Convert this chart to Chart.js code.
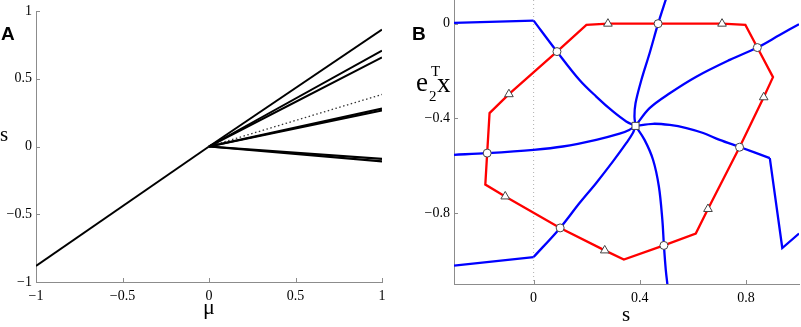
<!DOCTYPE html>
<html>
<head>
<meta charset="utf-8">
<script src="https://cdn.jsdelivr.net/npm/chart.js@4.4.1/dist/chart.umd.min.js"></script>
<style>
  html, body { margin: 0; padding: 0; background: #fff; }
  #wrap { position: relative; width: 801px; height: 327px; overflow: hidden; font-family: "Liberation Serif", serif; }
  .box { position: absolute; top: 0; }
  .lbl { position: absolute; line-height: 1; color: #000; white-space: nowrap; }
  .tag { font-family: "Liberation Sans", Arial, sans-serif; font-weight: bold; font-size: 19px; }
</style>
</head>
<body>
<div id="wrap">
  <div class="box" style="left:0;width:400px;height:327px"><canvas id="chartA" width="400" height="327"></canvas></div>
  <div class="box" style="left:400px;width:401px;height:327px"><canvas id="chartB" width="401" height="327"></canvas></div>

  <div class="lbl tag" style="left:1px;top:24px">A</div>
  <div class="lbl" style="left:0px;top:124px;font-size:21px">s</div>
  <div class="lbl" style="left:203px;top:296px;font-size:22px">μ</div>

  <div class="lbl tag" style="left:412px;top:24px">B</div>
  <div class="lbl" style="left:416px;top:69px;font-size:27px">e</div>
  <div class="lbl" style="left:431px;top:64px;font-size:15px">T</div>
  <div class="lbl" style="left:429px;top:89px;font-size:15px">2</div>
  <div class="lbl" style="left:437px;top:70px;font-size:27px">x</div>
  <div class="lbl" style="left:622px;top:304px;font-size:21px">s</div>
</div>

<script>
// ---- panel A: s against mu ----
const MU_TICKS = [-1, -0.5, 0, 0.5, 1]
const S_TICKS = [-1, -0.5, 0, 0.5, 1]
const MU_LEFT = [-1, 0]
const S_LEFT = [-0.882, 0]
const MU_RIGHT = [0, 1]
const S_THIN_ENDS = [0.863, 0.708, 0.657]
const S_DOTTED_END = 0.384
const S_THICK_ENDS = [0.266, 0.28, -0.092, -0.11]

// ---- panel B: e2'x against s ----
const B_X_TICKS = [0, 0.4, 0.8]
const B_Y_TICKS = [-0.8, -0.4, 0]
const ZERO_X = [0, 0]
const ZERO_Y = [0.1, -1.1]

// straight pieces of the blue curves
const BLUE1A_X = [-0.3, 0]
const BLUE1A_Y = [0.003, 0.013]
const BLUE4B_X = [0.89, 0.937, 1.0]
const BLUE4B_Y = [-0.568, -0.948, -0.887]
const BLUE6A_X = [-0.3, 0]
const BLUE6A_Y = [-1.022, -0.986]
// smooth pieces, all ending in the centre
const BLUE1_X = [0, 0.088, 0.173, 0.236, 0.299, 0.349, 0.384]
const BLUE1_Y = [0.013, -0.118, -0.238, -0.308, -0.371, -0.413, -0.432]
const BLUE2_X = [0.499, 0.469, 0.437, 0.406, 0.384, 0.38, 0.384]
const BLUE2_Y = [0.105, 0.0, -0.125, -0.238, -0.336, -0.392, -0.432]
const BLUE3_X = [1.0, 0.927, 0.843, 0.739, 0.613, 0.513, 0.437, 0.384]
const BLUE3_Y = [-0.002, -0.048, -0.101, -0.153, -0.224, -0.294, -0.357, -0.432]
const BLUE4_X = [0.384, 0.45, 0.513, 0.576, 0.639, 0.701, 0.779, 0.89]
const BLUE4_Y = [-0.432, -0.423, -0.428, -0.441, -0.462, -0.491, -0.522, -0.568]
const BLUE5_X = [0.384, 0.418, 0.45, 0.472, 0.485, 0.491, 0.498, 0.505]
const BLUE5_Y = [-0.432, -0.491, -0.575, -0.688, -0.828, -0.937, -1.04, -1.11]
const BLUE6_X = [0, 0.1, 0.173, 0.236, 0.299, 0.349, 0.374, 0.384]
const BLUE6_Y = [-0.986, -0.863, -0.758, -0.673, -0.582, -0.505, -0.462, -0.432]
const BLUE7_X = [-0.3, -0.175, 0, 0.11, 0.236, 0.324, 0.36, 0.384]
const BLUE7_Y = [-0.554, -0.547, -0.533, -0.519, -0.491, -0.465, -0.449, -0.432]

const RED_X = [0.088, 0.199, 0.28, 0.469, 0.71, 0.798, 0.843, 0.902, 0.867, 0.776, 0.657, 0.611, 0.491, 0.34, 0.268, 0.1, -0.107, -0.182, -0.175, -0.166, -0.093, 0.088]
const RED_Y = [-0.118, -0.005, 0.0, 0.0, 0.0, -0.005, -0.101, -0.226, -0.311, -0.522, -0.783, -0.887, -0.937, -0.997, -0.958, -0.863, -0.73, -0.68, -0.547, -0.378, -0.298, -0.118]

const CIRC_X = [0.088, 0.469, 0.843, 0.776, 0.491, 0.1, -0.175]
const CIRC_Y = [-0.118, 0.0, -0.101, -0.522, -0.937, -0.863, -0.547]
const TRI_X = [0.28, 0.71, 0.867, 0.657, 0.268, -0.107, -0.093]
const TRI_Y = [0.0, 0.0, -0.311, -0.783, -0.958, -0.73, -0.298]
const SQ_X = [0.384]
const SQ_Y = [-0.432]

const TICK_FONT = { family: '"Liberation Serif", serif', size: 14 }
const AXIS_GREY = '#8c8c8c'

const pts = (xs, ys) => xs.map((x, i) => ({ x, y: ys[i] }))
const fmt = v => (v < 0 ? '\u2212' + String(-v) : String(v))

// MATLAB style ticks, pointing into the plot
const innerTicks = {
  id: 'innerTicks',
  afterDraw(chart) {
    const { ctx, chartArea: a, scales: { x, y } } = chart
    ctx.save()
    ctx.strokeStyle = AXIS_GREY
    ctx.lineWidth = 1
    x.ticks.forEach(t => {
      const px = Math.round(x.getPixelForValue(t.value)) + 0.5
      ctx.beginPath(); ctx.moveTo(px, a.bottom); ctx.lineTo(px, a.bottom - 4); ctx.stroke()
    })
    y.ticks.forEach(t => {
      const py = Math.round(y.getPixelForValue(t.value)) + 0.5
      ctx.beginPath(); ctx.moveTo(a.left, py); ctx.lineTo(a.left + 4, py); ctx.stroke()
    })
    ctx.restore()
  }
}

function axis(min, max, ticks, size, pad) {
  return {
    type: 'linear', min, max,
    afterBuildTicks: s => { s.ticks = ticks.map(v => ({ value: v })) },
    afterFit: s => {
      if (s.isHorizontal()) s.height = size; else s.width = size
      s.paddingLeft = s.paddingRight = s.paddingTop = s.paddingBottom = 0
    },
    grid: { display: false, drawTicks: false },
    border: { color: AXIS_GREY, width: 1 },
    ticks: { font: TICK_FONT, color: '#000', padding: pad, autoSkip: false, maxRotation: 0, callback: fmt }
  }
}

function line(data, color, width, extra) {
  return Object.assign({ data, showLine: true, borderColor: color, borderWidth: width, pointRadius: 0, tension: 0, fill: false }, extra || {})
}

const baseOpts = {
  responsive: false,
  animation: false,
  events: [],
  plugins: { legend: { display: false }, tooltip: { enabled: false } }
}

// panel A
const aSets = [line(pts(MU_LEFT, S_LEFT), '#000', 2)]
S_THIN_ENDS.forEach(e => aSets.push(line(pts(MU_RIGHT, [0, e]), '#000', 2)))
S_THICK_ENDS.forEach(e => aSets.push(line(pts(MU_RIGHT, [0, e]), '#000', 2.2)))
aSets.push(line(pts(MU_RIGHT, [0, S_DOTTED_END]), '#333', 1.3, { borderDash: [1.5, 2.5] }))

new Chart(document.getElementById('chartA'), {
  type: 'scatter',
  data: { datasets: aSets },
  options: Object.assign({}, baseOpts, {
    layout: { autoPadding: false, padding: { left: 0, right: 18, top: 11, bottom: 0 } },
    scales: {
      x: axis(-1, 1, MU_TICKS, 45, 6),
      y: axis(-1, 1, S_TICKS, 36, 4)
    }
  }),
  plugins: [innerTicks]
})

// panel B
const straightBlues = [[BLUE1A_X, BLUE1A_Y], [BLUE4B_X, BLUE4B_Y], [BLUE6A_X, BLUE6A_Y]]
const curvedBlues = [[BLUE1_X, BLUE1_Y], [BLUE2_X, BLUE2_Y], [BLUE3_X, BLUE3_Y], [BLUE4_X, BLUE4_Y],
  [BLUE5_X, BLUE5_Y], [BLUE6_X, BLUE6_Y], [BLUE7_X, BLUE7_Y]]
const marker = (data, style, r) => ({
  data, showLine: false, pointStyle: style, pointRadius: r, pointBorderWidth: 1,
  pointBackgroundColor: '#fff', pointBorderColor: '#444', order: 0
})
const bSets = [
  line(pts(ZERO_X, ZERO_Y), '#b0b0b0', 1, { borderDash: [1, 3], order: 4 }),
  ...straightBlues.map(([xs, ys]) => line(pts(xs, ys), '#0000ff', 2.3, { order: 2 })),
  ...curvedBlues.map(([xs, ys]) => line(pts(xs, ys), '#0000ff', 2.3, { order: 2, tension: 0.35 })),
  line(pts(RED_X, RED_Y), '#ff0000', 2.3, { order: 1 }),
  marker(pts(CIRC_X, CIRC_Y), 'circle', 4),
  marker(pts(TRI_X, TRI_Y), 'triangle', 5),
  marker(pts(SQ_X, SQ_Y), 'rect', 5)
]

new Chart(document.getElementById('chartB'), {
  type: 'scatter',
  data: { datasets: bSets },
  options: Object.assign({}, baseOpts, {
    layout: { autoPadding: false, padding: { left: 0, right: 2, top: 0, bottom: 0 } },
    scales: {
      x: axis(-0.3, 1.0, B_X_TICKS, 43, 6),
      y: axis(-1.1, 0.1, B_Y_TICKS, 54, 4)
    }
  }),
  plugins: [innerTicks]
})
</script>
</body>
</html>
